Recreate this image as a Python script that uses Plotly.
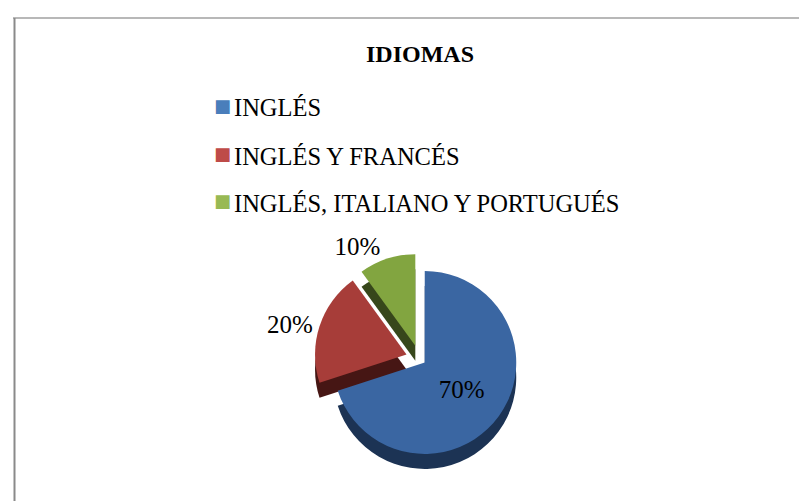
import plotly.graph_objects as go

# ---- data ----
categories = ["INGLÉS", "INGLÉS Y FRANCÉS", "INGLÉS, ITALIANO Y PORTUGUÉS"]
values = [70, 20, 10]
percent_labels = ["70%", "20%", "10%"]
title_text = "IDIOMAS"

# ---- styles ----
top_colors = ["#3A66A2", "#A73D39", "#82A540"]
side_colors = ["#1C3354", "#461614", "#37471B"]
legend_colors = ["#4A7EBB", "#BE4B48", "#98B954"]
FONT = "Liberation Serif"
W, H = 807, 501

pull = [0.07, 0.15, 0.15]
dom_x = [0.25, 0.77]
common = dict(labels=categories, values=values, sort=False, direction="clockwise",
              rotation=0, pull=pull, showlegend=False)

fig = go.Figure()
# darker copy slightly lower -> gives the slices some thickness
fig.add_trace(go.Pie(**common, marker=dict(colors=side_colors, line=dict(width=0)),
                     textinfo="none", hoverinfo="skip",
                     domain=dict(x=dom_x, y=[0.06, 0.48])))
fig.add_trace(go.Pie(**common, marker=dict(colors=top_colors, line=dict(width=0)),
                     text=percent_labels, textinfo="text",
                     textposition=["inside", "outside", "outside"],
                     insidetextorientation="horizontal",
                     textfont=dict(family=FONT, size=25, color="black"),
                     domain=dict(x=dom_x, y=[0.09, 0.51])))

# legend drawn as text rows
row_y = [105, 153, 200]
for cat, col, yy in zip(categories, legend_colors, row_y):
    fig.add_annotation(x=214 / W, y=1 - (yy - 8) / H, xref="paper", yref="paper",
                       text="■", showarrow=False, xanchor="center", yanchor="middle",
                       font=dict(family="DejaVu Sans", size=18, color=col))
    fig.add_annotation(x=224 / W, y=1 - (yy - 5) / H, xref="paper", yref="paper",
                       text=cat, showarrow=False, xanchor="left", yanchor="middle",
                       font=dict(family=FONT, size=24.5, color="black"))

# chart frame (top and left edges)
fig.add_shape(type="line", xref="paper", yref="paper", x0=5 / W, x1=1, y0=1 - 10 / H, y1=1 - 10 / H,
              line=dict(color="#A0A0A0", width=1.5))
fig.add_shape(type="line", xref="paper", yref="paper", x0=6.5 / W, x1=6.5 / W, y0=0, y1=1 - 10 / H,
              line=dict(color="#8A8A8A", width=2))

fig.update_layout(
    width=W, height=H,
    margin=dict(l=0, r=0, t=0, b=0),
    paper_bgcolor="white", plot_bgcolor="white",
    title=dict(text=title_text, x=412 / W, xanchor="center", y=1 - 46 / H, yanchor="middle",
               font=dict(family=FONT, size=24, color="black", weight="bold")),
)

fig.write_html("out.html")
